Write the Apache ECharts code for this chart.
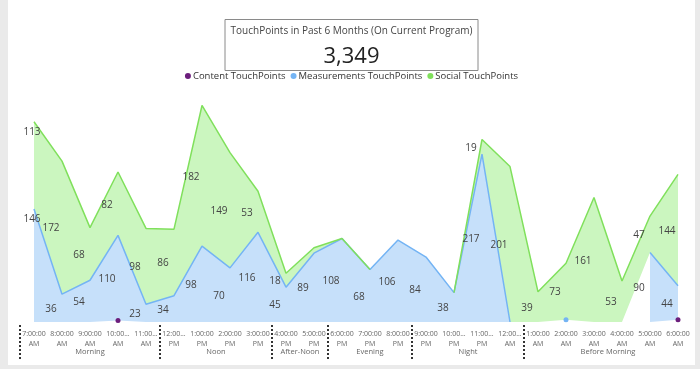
<!DOCTYPE html>
<html>
<head>
<meta charset="utf-8">
<script src="https://cdn.jsdelivr.net/npm/echarts@6/dist/echarts.min.js"></script>
<style>
  html, body { margin: 0; padding: 0; background: #EAEAEA; width: 700px; height: 369px; overflow: hidden; }
  #main { position: absolute; left: 8px; top: 0; width: 687px; height: 365px; background: #ffffff; }
</style>
</head>
<body>
<div id="main"></div>
<script>
// ---- data ----
const categories = ['7:00:00 AM','8:00:00 AM','9:00:00 AM','10:00:00 AM','11:00:00 AM','12:00:00 PM',
  '1:00:00 PM','2:00:00 PM','3:00:00 PM','4:00:00 PM','5:00:00 PM','6:00:00 PM','7:00:00 PM','8:00:00 PM',
  '9:00:00 PM','10:00:00 PM','11:00:00 PM','12:00:00 AM','1:00:00 AM','2:00:00 AM','3:00:00 AM','4:00:00 AM',
  '5:00:00 AM','6:00:00 AM'];
const groupNames = ['Morning','Noon','After-Noon','Evening','Night','Before Morning'];
const groupSizes = [5, 4, 2, 3, 4, 6];
const seriesNames = ['Content TouchPoints','Measurements TouchPoints','Social TouchPoints'];
const contentTP =      [null,null,null,2,null,null,null,null,null,null,null,null,null,null,null,null,null,null,null,null,null,null,null,3];
const measurementsTP = [146,36,54,110,23,34,98,70,116,45,89,108,68,106,84,38,217,0,null,3,null,null,90,44];
const socialTP =       [113,172,68,82,98,86,182,149,53,18,7,0,0,null,null,0,19,201,39,73,161,53,47,144];
const kpiTitle = 'TouchPoints in Past 6 Months (On Current Program)';

const seriesData = [contentTP, measurementsTP, socialTP];
const total = seriesData.reduce((s, arr) => s + arr.reduce((a, v) => a + (v || 0), 0), 0);

// group boundaries and centres on a 0..24 scale
const bounds = []; const centres = []; let acc = 0;
groupSizes.forEach(n => { bounds.push(acc); centres.push(acc + n / 2); acc += n; });

const chart = echarts.init(document.getElementById('main'), null, { renderer: 'canvas' });
const FONT = "'Segoe UI', 'Open Sans', sans-serif";

function below(k, i) {
  let s = 0;
  for (let j = 0; j < k; j++) s += (seriesData[j][i] || 0);
  return s;
}
function isolated(arr, i) {
  return arr[i] != null && (i === 0 || arr[i - 1] == null) && (i === arr.length - 1 || arr[i + 1] == null);
}

const styles = [
  { line: '#6C1E7C', area: '#6C1E7C' },
  { line: '#74B4F4', area: '#C6E0FA' },
  { line: '#80E05C', area: '#CBF6BF' }
];

const series = seriesData.map((arr, k) => ({
  name: seriesNames[k],
  type: 'line',
  stack: 'total',
  data: arr,
  showSymbol: true,
  showAllSymbol: true,
  symbol: 'circle',
  symbolSize: function (val, p) { return isolated(arr, p.dataIndex) ? 5 : 0; },
  itemStyle: { color: styles[k].line },
  lineStyle: { color: styles[k].line, width: 1.5 },
  areaStyle: { color: styles[k].area, opacity: 1 },
  emphasis: { disabled: true },
  z: 2,
  label: {
    show: k > 0,
    color: '#444',
    fontSize: 10,
    fontFamily: FONT,
    formatter: function (p) { return (p.value != null && p.value >= 10) ? String(p.value) : ''; }
  },
  labelLayout: function (p) {
    const i = p.dataIndex;
    const v = arr[i];
    if (v == null) return {};
    const b = below(k, i);
    const top = chart.convertToPixel({ xAxisIndex: 0, yAxisIndex: 0 }, [i, b + v]);
    const bot = chart.convertToPixel({ xAxisIndex: 0, yAxisIndex: 0 }, [i, b]);
    if (i === 0) {
      return { x: top[0] - 2, y: top[1] + 10, align: 'center', verticalAlign: 'middle' };
    }
    return { x: top[0] - 11, y: (top[1] + bot[1]) / 2 + 1, align: 'center', verticalAlign: 'middle' };
  }
}));

chart.setOption({
  animation: false,
  textStyle: { fontFamily: FONT },
  title: [
    {
      text: kpiTitle,
      left: 'center',
      top: 19,
      padding: [5, 6, 33, 6],
      borderColor: '#8a8a8a',
      borderWidth: 1,
      textStyle: { fontSize: 10, fontWeight: 'normal', color: '#444', fontFamily: FONT, lineHeight: 14 }
    },
    {
      text: total.toLocaleString('en-US'),
      left: 'center',
      top: 43,
      padding: 0,
      textStyle: { fontSize: 22, fontWeight: 'normal', color: '#222', fontFamily: FONT, lineHeight: 28 }
    }
  ],
  legend: {
    data: seriesNames,
    top: 71,
    left: 'center',
    icon: 'circle',
    itemWidth: 6,
    itemHeight: 6,
    itemGap: 5,
    padding: 0,
    textStyle: { fontSize: 9.5, color: '#333', fontFamily: FONT, padding: [0, 0, 0, -3] }
  },
  grid: { left: 12, right: 3, top: 90, bottom: 43 },
  xAxis: [
    {
      type: 'category',
      data: categories,
      boundaryGap: true,
      axisLine: { show: false },
      axisTick: { show: false },
      splitLine: { show: false },
      axisLabel: {
        interval: 0,
        margin: 7,
        fontSize: 7,
        lineHeight: 10,
        color: '#666',
        fontFamily: FONT,
        formatter: function (val) {
          const parts = val.split(' ');
          let t = parts[0];
          if (t.length > 7) t = t.slice(0, 5) + '...';
          return t + '\n' + parts[1];
        }
      }
    },
    {
      type: 'value',
      min: 0,
      max: categories.length,
      position: 'bottom',
      offset: 3,
      axisLine: { show: false },
      splitLine: { show: false },
      axisTick: {
        show: true,
        customValues: bounds,
        length: 35,
        lineStyle: { color: '#333', width: 2, type: [2, 2] }
      },
      axisLabel: {
        customValues: centres,
        margin: 23,
        fontSize: 7.5,
        color: '#666',
        fontFamily: FONT,
        formatter: function (val) {
          const idx = centres.findIndex(c => Math.abs(c - val) < 1e-6);
          return idx >= 0 ? groupNames[idx] : '';
        }
      }
    }
  ],
  yAxis: { type: 'value', min: 0, max: 300, show: false },
  series: series
});
</script>
</body>
</html>
